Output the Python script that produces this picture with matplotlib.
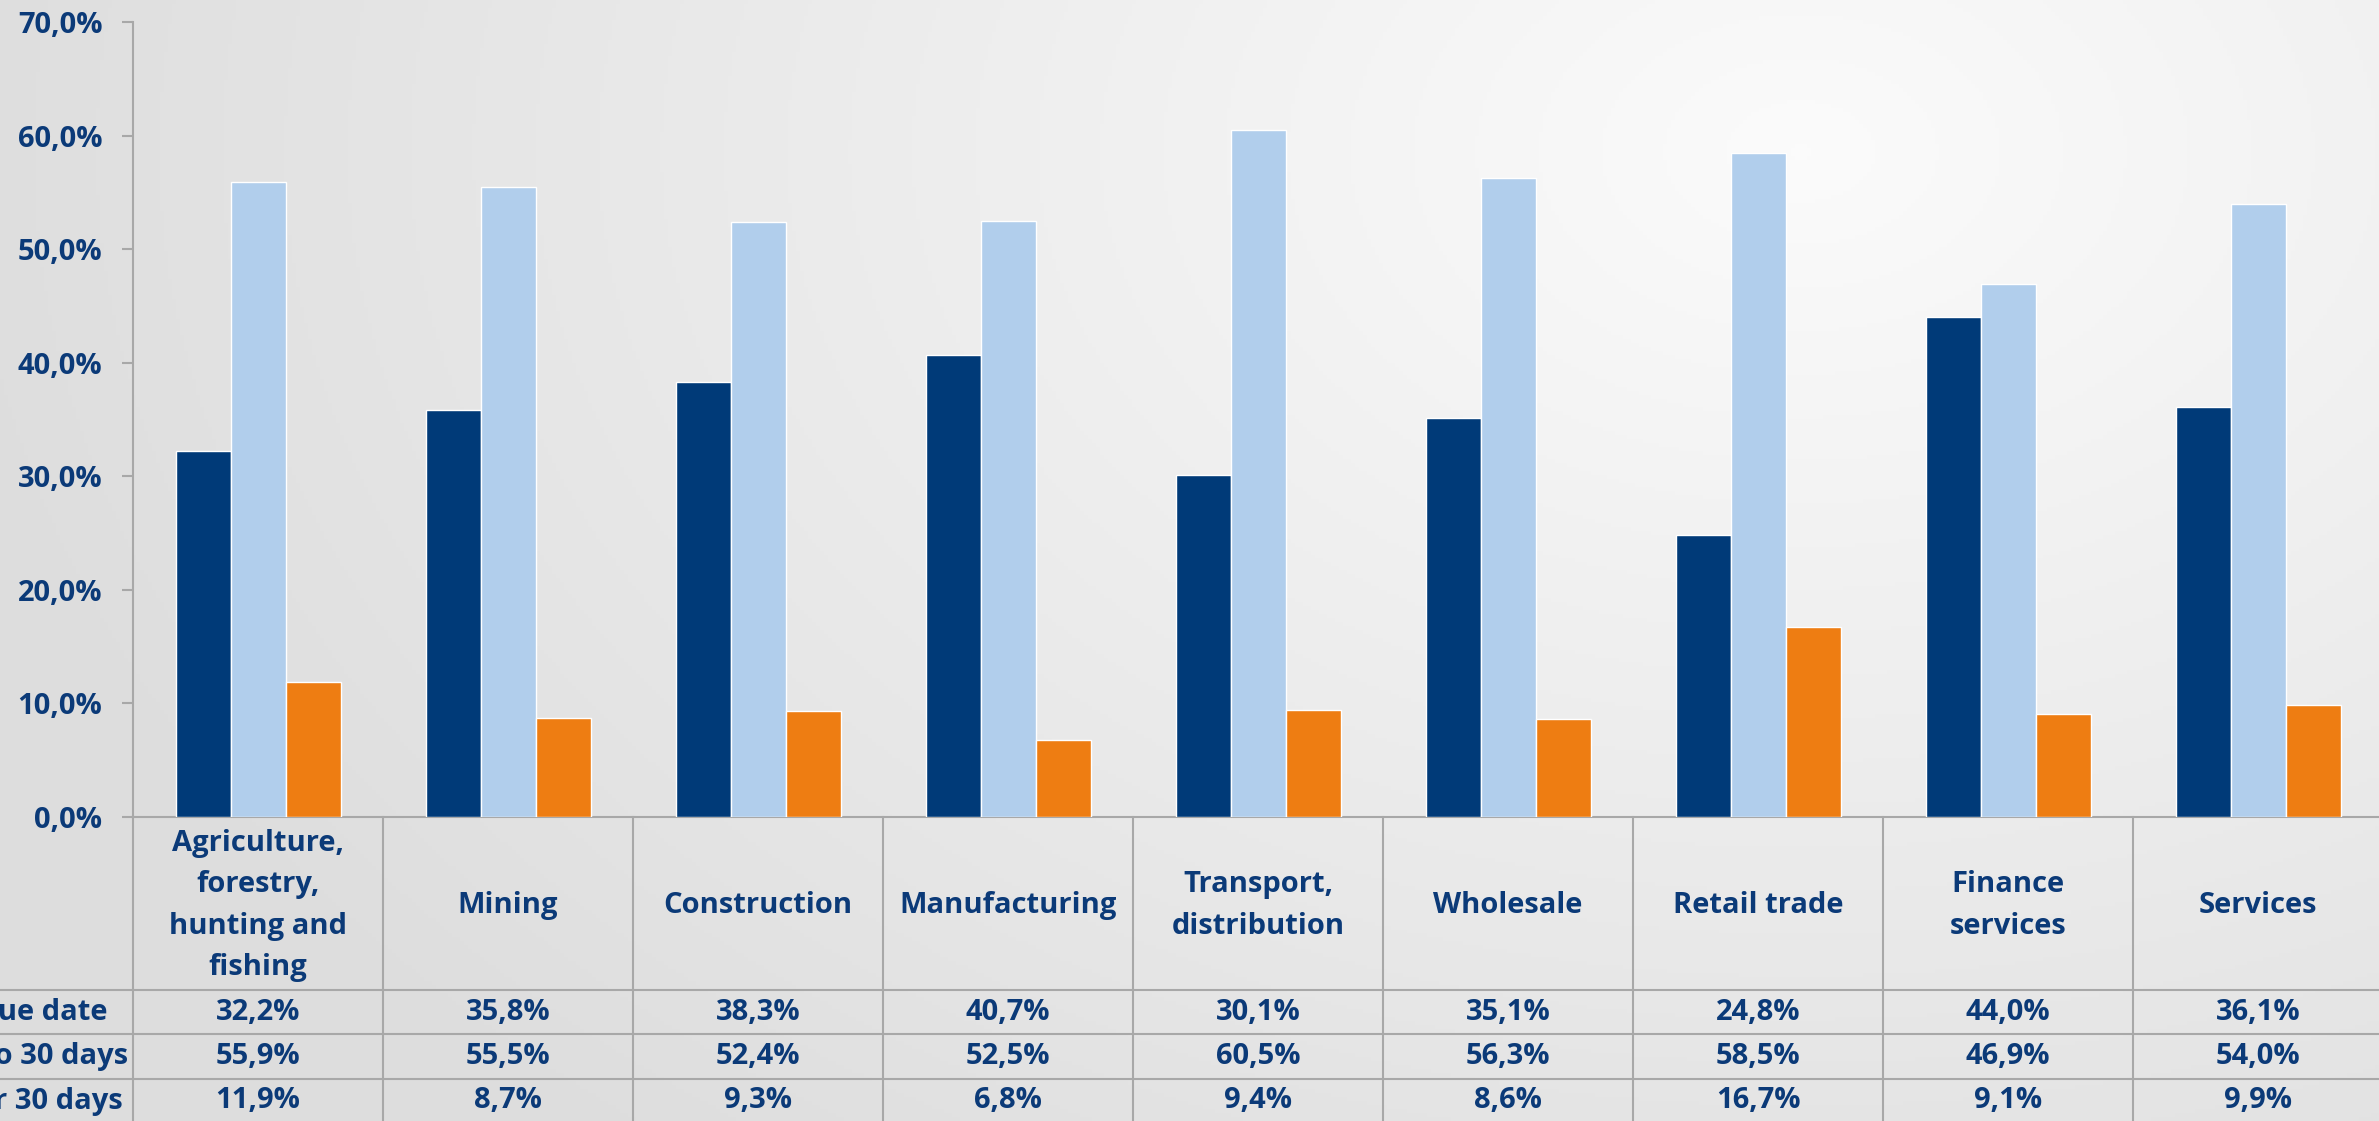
import matplotlib.pyplot as plt
import numpy as np
from matplotlib.transforms import blended_transform_factory

# data
categories = ["Agriculture,\nforestry,\nhunting and\nfishing", "Mining", "Construction",
              "Manufacturing", "Transport,\ndistribution", "Wholesale", "Retail trade",
              "Finance\nservices", "Services"]
series_names = ["Before due date", "Up to 30 days", "Over 30 days"]
before_due = [32.2, 35.8, 38.3, 40.7, 30.1, 35.1, 24.8, 44.0, 36.1]
up_to_30 = [55.9, 55.5, 52.4, 52.5, 60.5, 56.3, 58.5, 46.9, 54.0]
over_30 = [11.9, 8.7, 9.3, 6.8, 9.4, 8.6, 16.7, 9.1, 9.9]
y_ticks = [0, 10, 20, 30, 40, 50, 60, 70]

colors = ["#003A78", "#B1CEEC", "#EE7D12"]
text_color = "#0B3A78"
grid_color = "#A8A8A8"
fs = 21

W, H = 2379, 1121
plt.rcParams['font.family'] = ['Open Sans', 'DejaVu Sans']
fig = plt.figure(figsize=(W / 100, H / 100), dpi=100)

# background gradient
bg = fig.add_axes([0, 0, 1, 1], zorder=-10)
yy, xx = np.mgrid[0:H:4, 0:W:4]
r = np.sqrt(((xx - 1800) / 1600) ** 2 + ((yy - 150) / 1100) ** 2)
shade = np.clip(0.985 - 0.10 * r, 0.87, 0.985)
bg.imshow(np.dstack([shade, shade, shade]), extent=[0, W, H, 0], aspect='auto')
bg.axis('off')

# main axes: spine at x=133, 0% at y=817, 70% at y=22
left, right_px, top, zero = 133, 133 + 250 * 9, 22, 817
ax = fig.add_axes([left / W, 1 - zero / H, (right_px - left) / W, (zero - top) / H])
ax.patch.set_alpha(0)

x = np.arange(len(categories))
bw = 0.22
series = [before_due, up_to_30, over_30]
for i, (vals, name) in enumerate(zip(series, series_names)):
    ax.bar(x + (i - 1) * bw, vals, bw, color=colors[i], edgecolor="white",
           linewidth=1, label=name, zorder=3)

ax.set_xlim(-0.5, len(categories) - 0.5)
ax.set_ylim(0, 70)
ax.set_yticks(y_ticks)
ax.set_yticklabels([f"{v:.1f}%".replace('.', ',') for v in y_ticks],
                   fontsize=fs, fontweight='bold', color=text_color)
ax.tick_params(axis='y', length=8, width=1.5, color=grid_color, pad=14)
ax.set_xticks([])
for s in ['top', 'right']:
    ax.spines[s].set_visible(False)
for s in ['left', 'bottom']:
    ax.spines[s].set_color(grid_color)
    ax.spines[s].set_linewidth(1.5)

# data table below the axes
tr = blended_transform_factory(ax.transData, fig.transFigure)
header_bottom = 990
row_lines = [990, 1034, 1079, 1123]
fy = lambda py: 1 - py / H

for k in range(len(categories) + 1):
    ax.plot([k - 0.5, k - 0.5], [fy(zero), fy(H + 5)], color=grid_color, lw=1.5,
            transform=tr, clip_on=False)
for py in row_lines:
    fig.add_artist(plt.Line2D([0, 1], [fy(py), fy(py)], color=grid_color, lw=1.5))

for k, cat in enumerate(categories):
    ax.text(k, fy((zero + header_bottom) / 2 + 2), cat, transform=tr, ha='center',
            va='center', fontsize=fs, fontweight='bold', color=text_color,
            linespacing=1.55)

row_label_right = [107, 128, 123]
for r_i, (vals, name) in enumerate(zip(series, series_names)):
    yc = fy((row_lines[r_i] + row_lines[r_i + 1]) / 2)
    for k, v in enumerate(vals):
        ax.text(k, yc, f"{v:.1f}%".replace('.', ','), transform=tr, ha='center',
                va='center', fontsize=fs, fontweight='bold', color=text_color)
    fig.text(row_label_right[r_i] / W, yc, name, ha='right', va='center',
             fontsize=fs, fontweight='bold', color=text_color)

fig.savefig("out.png", dpi=100)
